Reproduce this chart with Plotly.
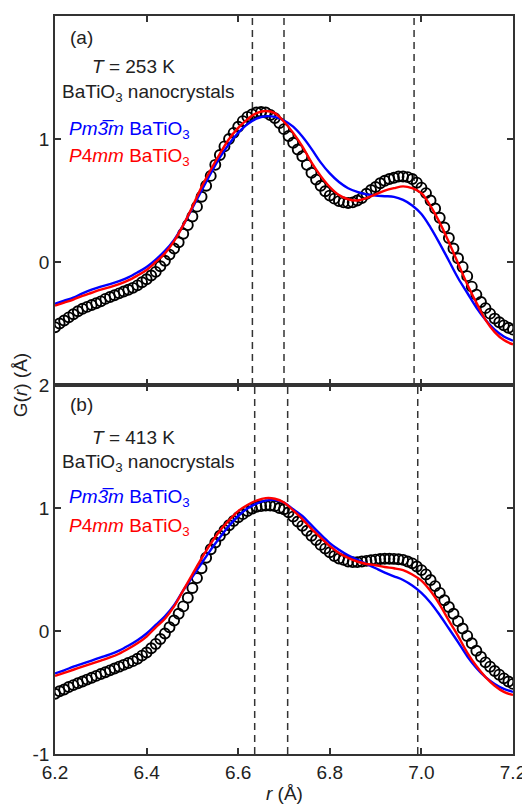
import numpy as np
import plotly.graph_objects as go

# ---------------- data ----------------
# experimental G(r), r = 6.20 ... 7.20 step 0.01
g_data_253 = [
    -0.53, -0.50, -0.475, -0.45, -0.425, -0.40, -0.38, -0.365, -0.35, -0.335,
    -0.32, -0.30, -0.285, -0.27, -0.255, -0.24, -0.225, -0.21, -0.19, -0.165,
    -0.14, -0.11, -0.08, -0.035, 0.01, 0.06, 0.11, 0.16, 0.23, 0.30,
    0.37, 0.45, 0.53, 0.62, 0.70, 0.79, 0.87, 0.94, 1.00, 1.05,
    1.10, 1.145, 1.18, 1.20, 1.215, 1.22, 1.215, 1.195, 1.17, 1.13,
    1.08, 1.025, 0.97, 0.915, 0.86, 0.79, 0.725, 0.67, 0.62, 0.575,
    0.54, 0.515, 0.495, 0.485, 0.48, 0.485, 0.50, 0.52, 0.555, 0.585,
    0.61, 0.64, 0.66, 0.675, 0.685, 0.695, 0.695, 0.69, 0.675, 0.645,
    0.605, 0.56, 0.50, 0.435, 0.36, 0.28, 0.195, 0.11, 0.03, -0.04,
    -0.115, -0.20, -0.265, -0.325, -0.375, -0.42, -0.46, -0.49, -0.515, -0.535,
    -0.55,
]
g_data_413 = [
    -0.51, -0.49, -0.475, -0.455, -0.44, -0.425, -0.41, -0.395, -0.38, -0.365,
    -0.35, -0.335, -0.32, -0.305, -0.29, -0.275, -0.26, -0.245, -0.225, -0.20,
    -0.175, -0.14, -0.105, -0.065, -0.02, 0.03, 0.085, 0.14, 0.20, 0.27,
    0.35, 0.43, 0.51, 0.595, 0.665, 0.72, 0.775, 0.82, 0.86, 0.895,
    0.925, 0.95, 0.975, 0.995, 1.01, 1.015, 1.02, 1.02, 1.015, 1.00,
    0.99, 0.965, 0.93, 0.89, 0.855, 0.815, 0.775, 0.74, 0.70, 0.67,
    0.64, 0.61, 0.59, 0.578, 0.565, 0.56, 0.56, 0.565, 0.57, 0.575,
    0.58, 0.585, 0.587, 0.587, 0.586, 0.583, 0.578, 0.565, 0.55, 0.525,
    0.495, 0.46, 0.415, 0.365, 0.31, 0.25, 0.195, 0.14, 0.08, 0.02,
    -0.04, -0.10, -0.16, -0.21, -0.255, -0.29, -0.325, -0.355, -0.385, -0.41,
    -0.43,
]
# model fits, r = 6.20 ... 7.20 step 0.02
g_cubic_253 = [
    -0.34, -0.315, -0.29, -0.255, -0.225, -0.20, -0.18, -0.155, -0.125, -0.085,
    -0.04, 0.02, 0.09, 0.18, 0.30, 0.44, 0.58, 0.72, 0.85, 0.96,
    1.05, 1.12, 1.165, 1.185, 1.18, 1.15, 1.10, 1.02, 0.92, 0.81,
    0.72, 0.65, 0.60, 0.57, 0.55, 0.54, 0.535, 0.53, 0.505, 0.46,
    0.39, 0.28, 0.15, 0.01, -0.13, -0.25, -0.37, -0.47, -0.55, -0.605,
    -0.64,
]
g_tetra_253 = [
    -0.355, -0.33, -0.305, -0.275, -0.25, -0.225, -0.205, -0.18, -0.15, -0.11,
    -0.065, 0.0, 0.07, 0.17, 0.30, 0.45, 0.61, 0.75, 0.88, 1.00,
    1.09, 1.16, 1.21, 1.228, 1.21, 1.14, 1.05, 0.94, 0.81, 0.70,
    0.61, 0.545, 0.51, 0.50, 0.52, 0.55, 0.58, 0.60, 0.615, 0.60,
    0.56, 0.455, 0.32, 0.16, -0.01, -0.18, -0.33, -0.47, -0.57, -0.635,
    -0.67,
]
g_cubic_413 = [
    -0.345, -0.32, -0.29, -0.265, -0.24, -0.215, -0.19, -0.16, -0.12, -0.075,
    -0.02, 0.05, 0.12, 0.21, 0.33, 0.44, 0.55, 0.66, 0.76, 0.855,
    0.935, 0.995, 1.035, 1.06, 1.065, 1.045, 0.99, 0.935, 0.86, 0.785,
    0.715, 0.66, 0.615, 0.58, 0.545, 0.51, 0.475, 0.445, 0.415, 0.37,
    0.31, 0.23, 0.13, 0.02, -0.09, -0.205, -0.30, -0.375, -0.43, -0.47,
    -0.495,
]
g_tetra_413 = [
    -0.365, -0.34, -0.315, -0.29, -0.265, -0.24, -0.215, -0.185, -0.145, -0.10,
    -0.045, 0.03, 0.10, 0.20, 0.33, 0.46, 0.59, 0.71, 0.815, 0.90,
    0.975, 1.025, 1.06, 1.08, 1.075, 1.045, 0.98, 0.91, 0.83, 0.76,
    0.69, 0.635, 0.595, 0.565, 0.545, 0.535, 0.52, 0.51, 0.495, 0.46,
    0.41, 0.325, 0.215, 0.085, -0.04, -0.175, -0.285, -0.375, -0.445, -0.495,
    -0.52,
]
dash_253 = [6.631, 6.700, 6.984]
dash_413 = [6.636, 6.708, 6.992]
x_ticks = [6.2, 6.4, 6.6, 6.8, 7.0, 7.2]
x_ticktext = ["6.2", "6.4", "6.6", "6.8", "7.0", "7.2"]
y_ticks_top = [0, 1, 2]
y_ticks_bot = [-1, 0, 1, 2]
y_ticktext_bot = ["-1", "0", "1", "2"]

r_data = np.round(6.20 + 0.01 * np.arange(len(g_data_253)), 2)
r_fit = np.round(6.20 + 0.02 * np.arange(len(g_cubic_253)), 2)

FONT = "Liberation Sans, Arial, sans-serif"
FS = 19
BLUE = "#0000ff"
RED = "#ff0000"

fig = go.Figure()

panels = [
    ("x", "y", g_data_253, g_cubic_253, g_tetra_253),
    ("x2", "y2", g_data_413, g_cubic_413, g_tetra_413),
]
for xa, ya, gd, gc, gt in panels:
    fig.add_trace(go.Scatter(
        x=r_data, y=gd, mode="markers", xaxis=xa, yaxis=ya,
        marker=dict(symbol="circle-open", size=10, color="black",
                    line=dict(width=1.9, color="black")),
        showlegend=False))
    fig.add_trace(go.Scatter(
        x=r_fit, y=gc, mode="lines", xaxis=xa, yaxis=ya,
        line=dict(color=BLUE, width=2.4, shape="spline"), showlegend=False))
    fig.add_trace(go.Scatter(
        x=r_fit, y=gt, mode="lines", xaxis=xa, yaxis=ya,
        line=dict(color=RED, width=2.4, shape="spline"), showlegend=False))

shapes = []
for xr, yr, dl in [("x", "y", dash_253), ("x2", "y2", dash_413)]:
    for xv in dl:
        shapes.append(dict(type="line", xref=xr, yref=yr + " domain",
                           x0=xv, x1=xv, y0=0, y1=1,
                           line=dict(color="#333333", width=1.5, dash="7px,5px"),
                           layer="below"))

ax_common = dict(
    showline=True, linecolor="#333333", linewidth=1.5, mirror="ticks",
    ticks="inside", ticklen=6, tickwidth=1.5, tickcolor="#333333",
    showgrid=False, zeroline=False, automargin=False,
    tickfont=dict(family=FONT, size=FS, color="#222222"),
)

# page body has an 8px margin, so the figure is 8px smaller than the window
fig.update_layout(
    template="none",
    width=522, height=797,
    margin=dict(l=47, r=17, t=8, b=51, autoexpand=False),
    plot_bgcolor="white", paper_bgcolor="white",
    font=dict(family=FONT, size=FS, color="#222222"),
    xaxis=dict(range=[6.2, 7.2], tickvals=x_ticks, showticklabels=False,
               anchor="y", **ax_common),
    yaxis=dict(range=[-1, 2], tickvals=y_ticks_top, domain=[0.5, 1],
               anchor="x", **ax_common),
    xaxis2=dict(range=[6.2, 7.2], tickvals=x_ticks, ticktext=x_ticktext,
                anchor="y2", **ax_common),
    yaxis2=dict(range=[-1, 2], tickvals=y_ticks_bot, ticktext=y_ticktext_bot,
                domain=[0, 0.5], anchor="x2", **ax_common),
    shapes=shapes,
)

def txt(xr, yr, x, y, s, color="#222222"):
    fig.add_annotation(xref=xr, yref=yr, x=x, y=y, text=s, showarrow=False,
                       xanchor="left", yanchor="middle",
                       font=dict(family=FONT, size=FS, color=color))

pm3m = "<i>Pm</i><i>3\u0305m</i> BaTiO<sub>3</sub>"
p4mm = "<i>P</i>4<i>mm</i> BaTiO<sub>3</sub>"
labels = [
    ("x domain", "y domain", "(a)", "<i>T</i> = 253 K", [0.943, 0.862, 0.791, 0.691, 0.618]),
    ("x2 domain", "y2 domain", "(b)", "<i>T</i> = 413 K", [0.946, 0.859, 0.789, 0.694, 0.615]),
]
for xr, yr, tag, temp, ys in labels:
    txt(xr, yr, 0.028, ys[0], tag)
    txt(xr, yr, 0.076, ys[1], temp)
    txt(xr, yr, 0.011, ys[2], "BaTiO<sub>3</sub> nanocrystals")
    txt(xr, yr, 0.026, ys[3], pm3m, BLUE)
    txt(xr, yr, 0.026, ys[4], p4mm, RED)

fig.add_annotation(xref="paper", yref="paper", x=-0.076, y=0.5,
                   text="G(<i>r</i>) (Å)", textangle=-90, showarrow=False,
                   xanchor="center", yanchor="middle",
                   font=dict(family=FONT, size=FS, color="#222222"))
fig.add_annotation(xref="paper", yref="paper", x=0.5, y=-0.053,
                   text="<i>r</i> (Å)", showarrow=False,
                   xanchor="center", yanchor="middle",
                   font=dict(family=FONT, size=FS, color="#222222"))

fig.write_html("out.html")
